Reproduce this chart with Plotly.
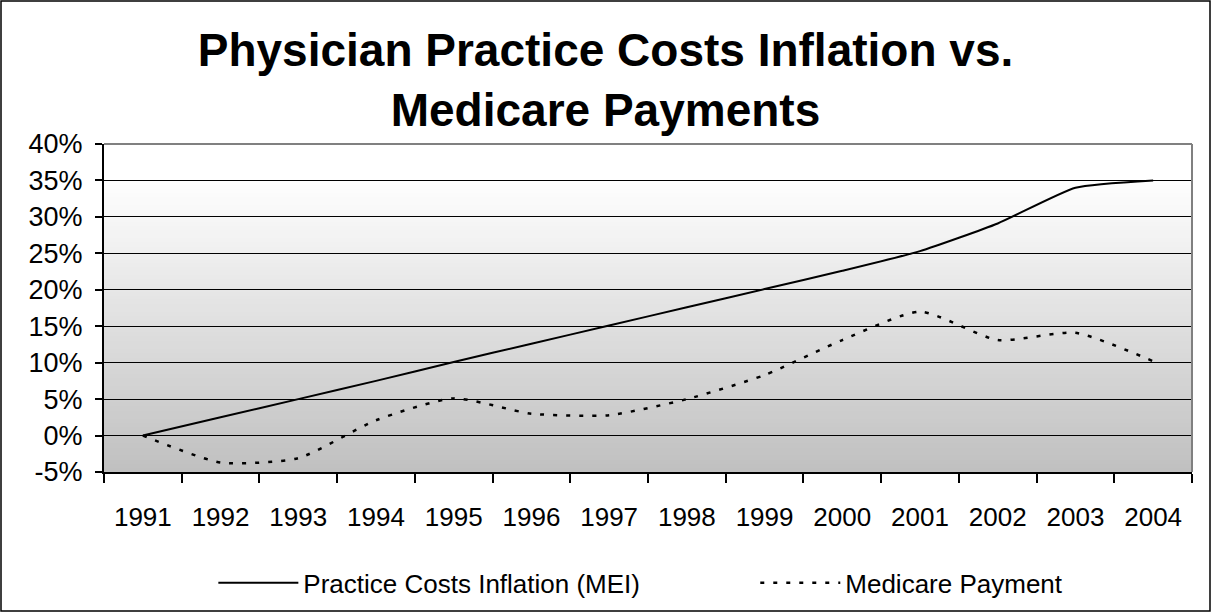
import plotly.graph_objects as go

years = ["1991", "1992", "1993", "1994", "1995", "1996", "1997",
         "1998", "1999", "2000", "2001", "2002", "2003", "2004"]
mei = [0.0, 2.5, 5.0, 7.5, 10.1, 12.6, 15.1, 17.6, 20.1, 22.6, 25.3, 29.1, 34.0, 35.0]
medicare = [0.0, -3.7, -3.1, 2.1, 5.1, 3.0, 2.8, 5.0, 8.3, 13.1, 17.0, 13.1, 14.1, 10.2]
ytick_vals = [-5, 0, 5, 10, 15, 20, 25, 30, 35, 40]
ytick_text = ["-5%", "0%", "5%", "10%", "15%", "20%", "25%", "30%", "35%", "40%"]

FONT = "Liberation Sans, Arial, sans-serif"
W, H = 1211, 612
ML, MR, MT, MB = 104, 19, 144, 140

fig = go.Figure()
fig.add_trace(go.Scatter(
    x=years, y=mei, mode="lines", name="Practice Costs Inflation (MEI)",
    line=dict(color="black", width=2, shape="spline", smoothing=0.5),
    legend="legend",
))
fig.add_trace(go.Scatter(
    x=years, y=medicare, mode="lines", name="Medicare Payment",
    line=dict(color="black", width=2.5, dash="4px,9px", shape="spline", smoothing=0.6),
    legend="legend2",
))

# gradient background of plot area (white at top -> gray at bottom)
shapes = []
n = 80
for i in range(n):
    t = min(1.0, (i / (n - 1)) / 0.9)  # 0 bottom -> 1 near top
    v = int(round(192 + (255 - 192) * t))
    shapes.append(dict(type="rect", xref="x domain", yref="y domain",
                       x0=0, x1=1, y0=i / n, y1=(i + 1) / n + 0.003,
                       fillcolor=f"rgb({v},{v},{v})", line=dict(width=0),
                       layer="below"))
# gray top & right borders of plot area
shapes.append(dict(type="line", xref="x domain", yref="y domain", x0=0, x1=1, y0=1, y1=1,
                   line=dict(color="#808080", width=2), layer="above"))
shapes.append(dict(type="line", xref="x domain", yref="y domain", x0=1, x1=1, y0=0, y1=1,
                   line=dict(color="#808080", width=2), layer="above"))
# outer chart border
pw = W - ML - MR
ph = H - MT - MB
shapes.append(dict(type="rect", xref="paper", yref="paper",
                   x0=(-ML + 1) / pw, x1=(pw + MR - 1) / pw,
                   y0=(-MB + 1) / ph, y1=(ph + MT - 1) / ph,
                   line=dict(color="black", width=1.5), fillcolor="rgba(0,0,0,0)",
                   layer="above"))

legend_common = dict(orientation="h", xanchor="left", y=-0.338, yanchor="middle",
                     font=dict(family=FONT, size=26, color="black"),
                     itemwidth=80, bgcolor="rgba(0,0,0,0)")

fig.update_layout(
    width=W, height=H,
    margin=dict(l=ML, r=MR, t=MT, b=MB, pad=0, autoexpand=False),
    paper_bgcolor="white", plot_bgcolor="rgba(0,0,0,0)",
    font=dict(family=FONT, color="black"),
    title=dict(text="<b>Physician Practice Costs Inflation vs.<br>Medicare Payments</b>",
               x=0.5, xanchor="center", xref="container",
               y=1 - 66 / H, yanchor="top", yref="container",
               font=dict(family=FONT, size=46, color="black")),
    shapes=shapes,
    showlegend=True,
    legend=dict(x=0.1005, **legend_common),
    legend2=dict(x=0.5986, **legend_common),
)
fig.update_xaxes(
    type="category", range=[-0.5, 13.5], tickson="boundaries",
    ticks="outside", ticklen=9, tickwidth=1.5, tickcolor="black",
    showline=True, linecolor="black", linewidth=2,
    showgrid=False, tickfont=dict(family=FONT, size=26, color="black"),
    ticklabelstandoff=21, automargin=False,
)
fig.update_yaxes(
    range=[-5, 40], tickvals=ytick_vals, ticktext=ytick_text,
    ticks="outside", ticklen=7, tickwidth=2, tickcolor="black",
    showline=True, linecolor="black", linewidth=2,
    showgrid=True, gridcolor="black", gridwidth=1, zeroline=False,
    tickfont=dict(family=FONT, size=27, color="black"),
    ticklabelstandoff=7, automargin=False,
)

fig.write_html("out.html", config={"displayModeBar": False},
               post_script="document.body.style.margin='0';")
